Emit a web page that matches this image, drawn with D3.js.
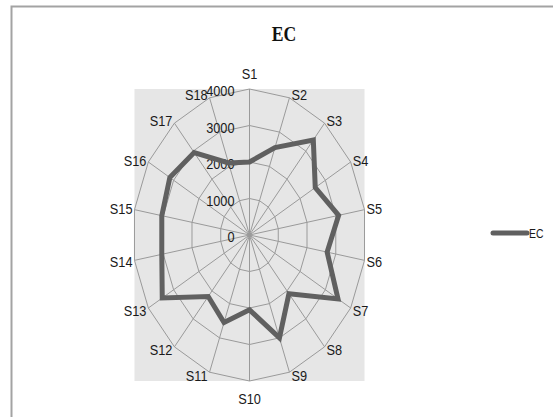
<!DOCTYPE html>
<html>
<head>
<meta charset="utf-8">
<script src="https://cdn.jsdelivr.net/npm/d3@7"></script>
<style>
  html, body { margin: 0; padding: 0; background: #fff; }
  svg { display: block; }
</style>
</head>
<body>
<svg id="chart" width="553" height="417"></svg>
<script>
// Radar chart of EC across 18 stations
const chartTitle = "EC";
const seriesName = "EC";
const categories = ["S1","S2","S3","S4","S5","S6","S7","S8","S9","S10","S11","S12","S13","S14","S15","S16","S17","S18"];
const ecValues = [2000, 2550, 3400, 2600, 3100, 2700, 3500, 2100, 3000, 2050, 2550, 2200, 3450, 3050, 3050, 3150, 2950, 2100];
const tickValues = [0, 1000, 2000, 3000, 4000];

const svg = d3.select("#chart");
const cx = 249.5, cy = 235;
const maxR = 146;           // vertical radius of the outer ring
const squeeze = 0.8;        // plot is narrower than tall

const rY = d3.scaleLinear().domain([0, 4000]).range([0, maxR]);
const rX = d3.scaleLinear().domain([0, 4000]).range([0, maxR * squeeze]);
const angle = d3.scaleLinear().domain([0, categories.length]).range([0, 2 * Math.PI]);

const pt = (i, v) => {
  const a = angle(i);
  return [cx + rX(v) * Math.sin(a), cy - rY(v) * Math.cos(a)];
};

// chart frame
svg.append("rect")
  .attr("x", 11.5).attr("y", 6.5)
  .attr("width", 700).attr("height", 600)
  .attr("fill", "#fff")
  .attr("stroke", "#a3a3a3")
  .attr("stroke-width", 2);

// plot area: bounding box of the outer ring
const outer = categories.map((c, i) => pt(i, 4000));
const xs = outer.map(p => p[0]), ys = outer.map(p => p[1]);
svg.append("rect")
  .attr("x", d3.min(xs)).attr("y", d3.min(ys))
  .attr("width", d3.max(xs) - d3.min(xs))
  .attr("height", d3.max(ys) - d3.min(ys))
  .attr("fill", "#e6e6e6");

// title
svg.append("text")
  .attr("transform", `translate(284,41) scale(0.8,1)`)
  .attr("text-anchor", "middle")
  .attr("font-family", "'Liberation Serif', 'Times New Roman', serif")
  .attr("font-weight", "bold")
  .attr("font-size", 22)
  .attr("fill", "#111")
  .text(chartTitle);

const grid = svg.append("g")
  .attr("fill", "none")
  .attr("stroke", "#9a9a9a")
  .attr("stroke-width", 1);

// ring polygons
const ringLine = d3.line();
tickValues.filter(t => t > 0).forEach(t => {
  grid.append("path")
    .attr("d", ringLine(categories.map((c, i) => pt(i, t))) + "Z");
});

// spokes
categories.forEach((c, i) => {
  const [x, y] = pt(i, 4000);
  grid.append("line")
    .attr("x1", cx).attr("y1", cy)
    .attr("x2", x).attr("y2", y);
});

// radial tick labels along the S1 axis
const labelFont = "'Liberation Sans', Arial, sans-serif";
svg.append("g").selectAll("text")
  .data(tickValues)
  .join("text")
  .attr("transform", d => `translate(${cx - 15},${cy - rY(d) + 7}) scale(0.85,1)`)
  .attr("text-anchor", "end")
  .attr("font-family", labelFont)
  .attr("font-size", 15)
  .attr("fill", "#1a1a1a")
  .text(d => d);

// category labels around the outside
svg.append("g").selectAll("text")
  .data(categories)
  .join("text")
  .each(function (d, i) {
    const a = angle(i);
    const s = Math.sin(a), c = Math.cos(a);
    let [x, y] = pt(i, 4000);
    let anchor;
    if (Math.abs(s) < 0.1) {
      anchor = "middle";
      y += c > 0 ? -16 : 17;
    } else {
      anchor = s > 0 ? "start" : "end";
      x += s > 0 ? 2 : -2;
      y += -4 * c;
    }
    d3.select(this)
      .attr("transform", `translate(${x},${y + 5.5}) scale(0.85,1)`)
      .attr("text-anchor", anchor);
  })
  .attr("font-family", labelFont)
  .attr("font-size", 15)
  .attr("fill", "#1a1a1a")
  .text(d => d);

// data series
svg.append("path")
  .datum(ecValues)
  .attr("d", d => d3.line()(d.map((v, i) => pt(i, v))) + "Z")
  .attr("fill", "none")
  .attr("stroke", "#606060")
  .attr("stroke-width", 5)
  .attr("stroke-linejoin", "miter");

// legend
const legend = svg.append("g").attr("transform", "translate(493,233)");
legend.append("line")
  .attr("x1", 0).attr("x2", 34)
  .attr("y1", 0).attr("y2", 0)
  .attr("stroke", "#606060")
  .attr("stroke-width", 5)
  .attr("stroke-linecap", "round");
legend.append("text")
  .attr("transform", "translate(36,5) scale(0.8,1)")
  .attr("font-family", labelFont)
  .attr("font-size", 13)
  .attr("fill", "#1a1a1a")
  .text(seriesName);
</script>
</body>
</html>
